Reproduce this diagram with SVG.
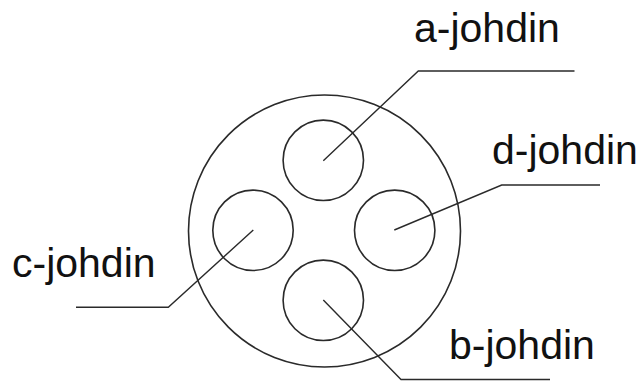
<svg xmlns="http://www.w3.org/2000/svg" width="642" height="381" viewBox="0 0 642 381">
<style>
.c{fill:none;stroke:#2a2a2a;stroke-width:1.6}
.l{fill:none;stroke:#2a2a2a;stroke-width:1.4}
.t{font-family:"Liberation Sans",Arial,sans-serif;font-size:41px;fill:#111}
</style>
<rect width="642" height="381" fill="#fff"/>
<g id="outer"><circle class="c" cx="324.5" cy="231" r="136"/></g>
<g id="a"><circle class="c" cx="323.3" cy="160.3" r="40.2"/><text class="t" x="414" y="42">a-johdin</text></g>
<g id="c"><circle class="c" cx="253" cy="230.3" r="40.2"/><text class="t" x="12" y="277">c-johdin</text></g>
<g id="d"><circle class="c" cx="394.7" cy="230.3" r="40.2"/><text class="t" x="492" y="164">d-johdin</text></g>
<g id="b"><circle class="c" cx="323.3" cy="300.3" r="40.2"/><text class="t" x="449" y="359">b-johdin</text></g>
<g id="connectors">
<polyline class="l" points="323.3,160.7 418.3,71 574.5,71"/>
<polyline class="l" points="253.3,230 168.3,307.3 76,307.3"/>
<polyline class="l" points="394.3,230 501.7,185 600,185"/>
<polyline class="l" points="323.3,300 401,379.5 550,379.5"/>
</g>
</svg>
